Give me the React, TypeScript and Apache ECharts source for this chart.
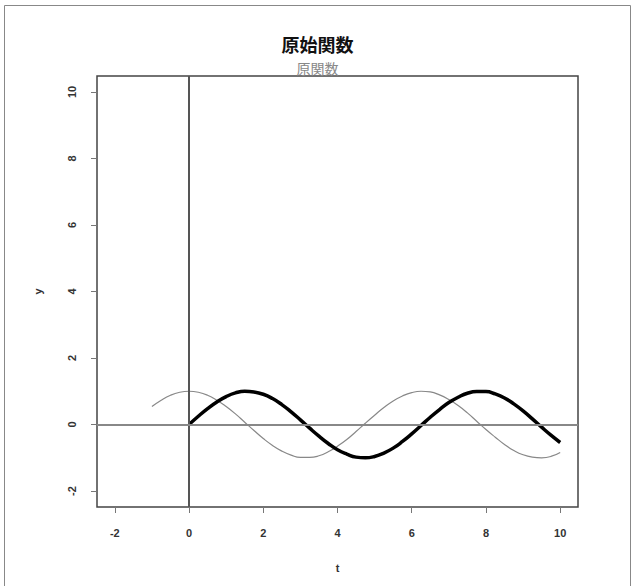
import React, { useEffect, useRef } from "react";
import * as echarts from "echarts";

const sinT = [0, 0.25, 0.5, 0.75, 1, 1.25, 1.5, 1.75, 2, 2.25, 2.5, 2.75, 3, 3.25, 3.5, 3.75, 4, 4.25, 4.5, 4.75, 5, 5.25, 5.5, 5.75, 6, 6.25, 6.5, 6.75, 7, 7.25, 7.5, 7.75, 8, 8.25, 8.5, 8.75, 9, 9.25, 9.5, 9.75, 10];
const sinY = [0, 0.25, 0.48, 0.68, 0.84, 0.95, 1.0, 0.98, 0.91, 0.78, 0.6, 0.38, 0.14, -0.11, -0.35, -0.57, -0.76, -0.89, -0.98, -1.0, -0.96, -0.86, -0.71, -0.51, -0.28, -0.03, 0.22, 0.45, 0.66, 0.82, 0.94, 0.99, 0.99, 0.92, 0.8, 0.62, 0.41, 0.17, -0.08, -0.32, -0.54];
const cosT = [-1, -0.75, -0.5, -0.25, 0, 0.25, 0.5, 0.75, 1, 1.25, 1.5, 1.75, 2, 2.25, 2.5, 2.75, 3, 3.25, 3.5, 3.75, 4, 4.25, 4.5, 4.75, 5, 5.25, 5.5, 5.75, 6, 6.25, 6.5, 6.75, 7, 7.25, 7.5, 7.75, 8, 8.25, 8.5, 8.75, 9, 9.25, 9.5, 9.75, 10];
const cosY = [0.54, 0.73, 0.88, 0.97, 1.0, 0.97, 0.88, 0.73, 0.54, 0.32, 0.07, -0.18, -0.42, -0.63, -0.8, -0.92, -0.99, -0.99, -0.94, -0.82, -0.65, -0.45, -0.21, 0.04, 0.28, 0.51, 0.71, 0.86, 0.96, 1.0, 0.98, 0.89, 0.75, 0.57, 0.35, 0.1, -0.15, -0.38, -0.6, -0.78, -0.91, -0.98, -1.0, -0.96, -0.84];
const xTicks = [-2, 0, 2, 4, 6, 8, 10];
const yTicks = [-2, 0, 2, 4, 6, 8, 10];
const titleText = "原始関数";
const subText = "原関数";

export default function App() {
  const ref = useRef<HTMLDivElement>(null);
  useEffect(() => {
    document.body.style.margin = "0";
    const chart = echarts.init(ref.current!, null, { renderer: "svg" });
    const labelStyle = { color: "#333", fontSize: 11, fontWeight: "bold" as const, fontFamily: "Liberation Sans, Arial, sans-serif" };
    chart.setOption({
      animation: false,
      backgroundColor: "#fff",
      title: [
        {
          text: titleText,
          left: "center",
          top: 35,
          padding: 0,
          textStyle: { fontSize: 18, lineHeight: 18, fontWeight: "bold", color: "#111", fontFamily: "Noto Sans CJK JP" },
        },
        {
          text: subText,
          left: "center",
          top: 61,
          padding: 0,
          textStyle: { fontSize: 14, lineHeight: 14, fontWeight: "normal", color: "#888", fontFamily: "Noto Sans CJK JP" },
        },
      ],
      graphic: [
        { type: "rect", shape: { x: 4.5, y: 5.5, width: 626, height: 600 }, style: { fill: "none", stroke: "#888", lineWidth: 1 }, z: -1 },
      ],
      grid: { left: 97, right: 57, top: 76, bottom: 79, show: true, borderColor: "#444", borderWidth: 1.5 },
      xAxis: {
        type: "value",
        min: -2.48,
        max: 10.48,
        name: "t",
        nameLocation: "middle",
        nameGap: 55,
        nameTextStyle: labelStyle,
        axisLine: { show: false, onZero: false },
        splitLine: { show: false },
        axisLabel: {
          ...labelStyle,
          margin: 20,
          customValues: xTicks,
          formatter: (v: number) => String(v),
        },
        axisTick: { show: true, length: 6, lineStyle: { color: "#777" }, customValues: xTicks },
      },
      yAxis: {
        type: "value",
        min: -2.48,
        max: 10.48,
        name: "y",
        nameLocation: "middle",
        nameGap: 54,
        nameRotate: 90,
        nameTextStyle: labelStyle,
        axisLine: { show: false, onZero: false },
        splitLine: { show: false },
        axisLabel: {
          ...labelStyle,
          margin: 20,
          rotate: 90,
          customValues: yTicks,
          formatter: (v: number) => String(v),
        },
        axisTick: { show: true, length: 6, lineStyle: { color: "#777" }, customValues: yTicks },
      },
      series: [
        {
          type: "line",
          data: cosT.map((t, i) => [t, cosY[i]]),
          smooth: true,
          showSymbol: false,
          lineStyle: { color: "#888", width: 1.2 },
          markLine: {
            silent: true,
            symbol: "none",
            label: { show: false },
            data: [
              { xAxis: 0, lineStyle: { color: "#555", width: 2, type: "solid" } },
              { yAxis: 0, lineStyle: { color: "#888", width: 2, type: "solid" } },
            ],
          },
        },
        {
          type: "line",
          data: sinT.map((t, i) => [t, sinY[i]]),
          smooth: true,
          showSymbol: false,
          lineStyle: { color: "#000", width: 3.5 },
        },
      ],
    });
    return () => chart.dispose();
  }, []);
  return <div ref={ref} style={{ width: 635, height: 586 }} />;
}
